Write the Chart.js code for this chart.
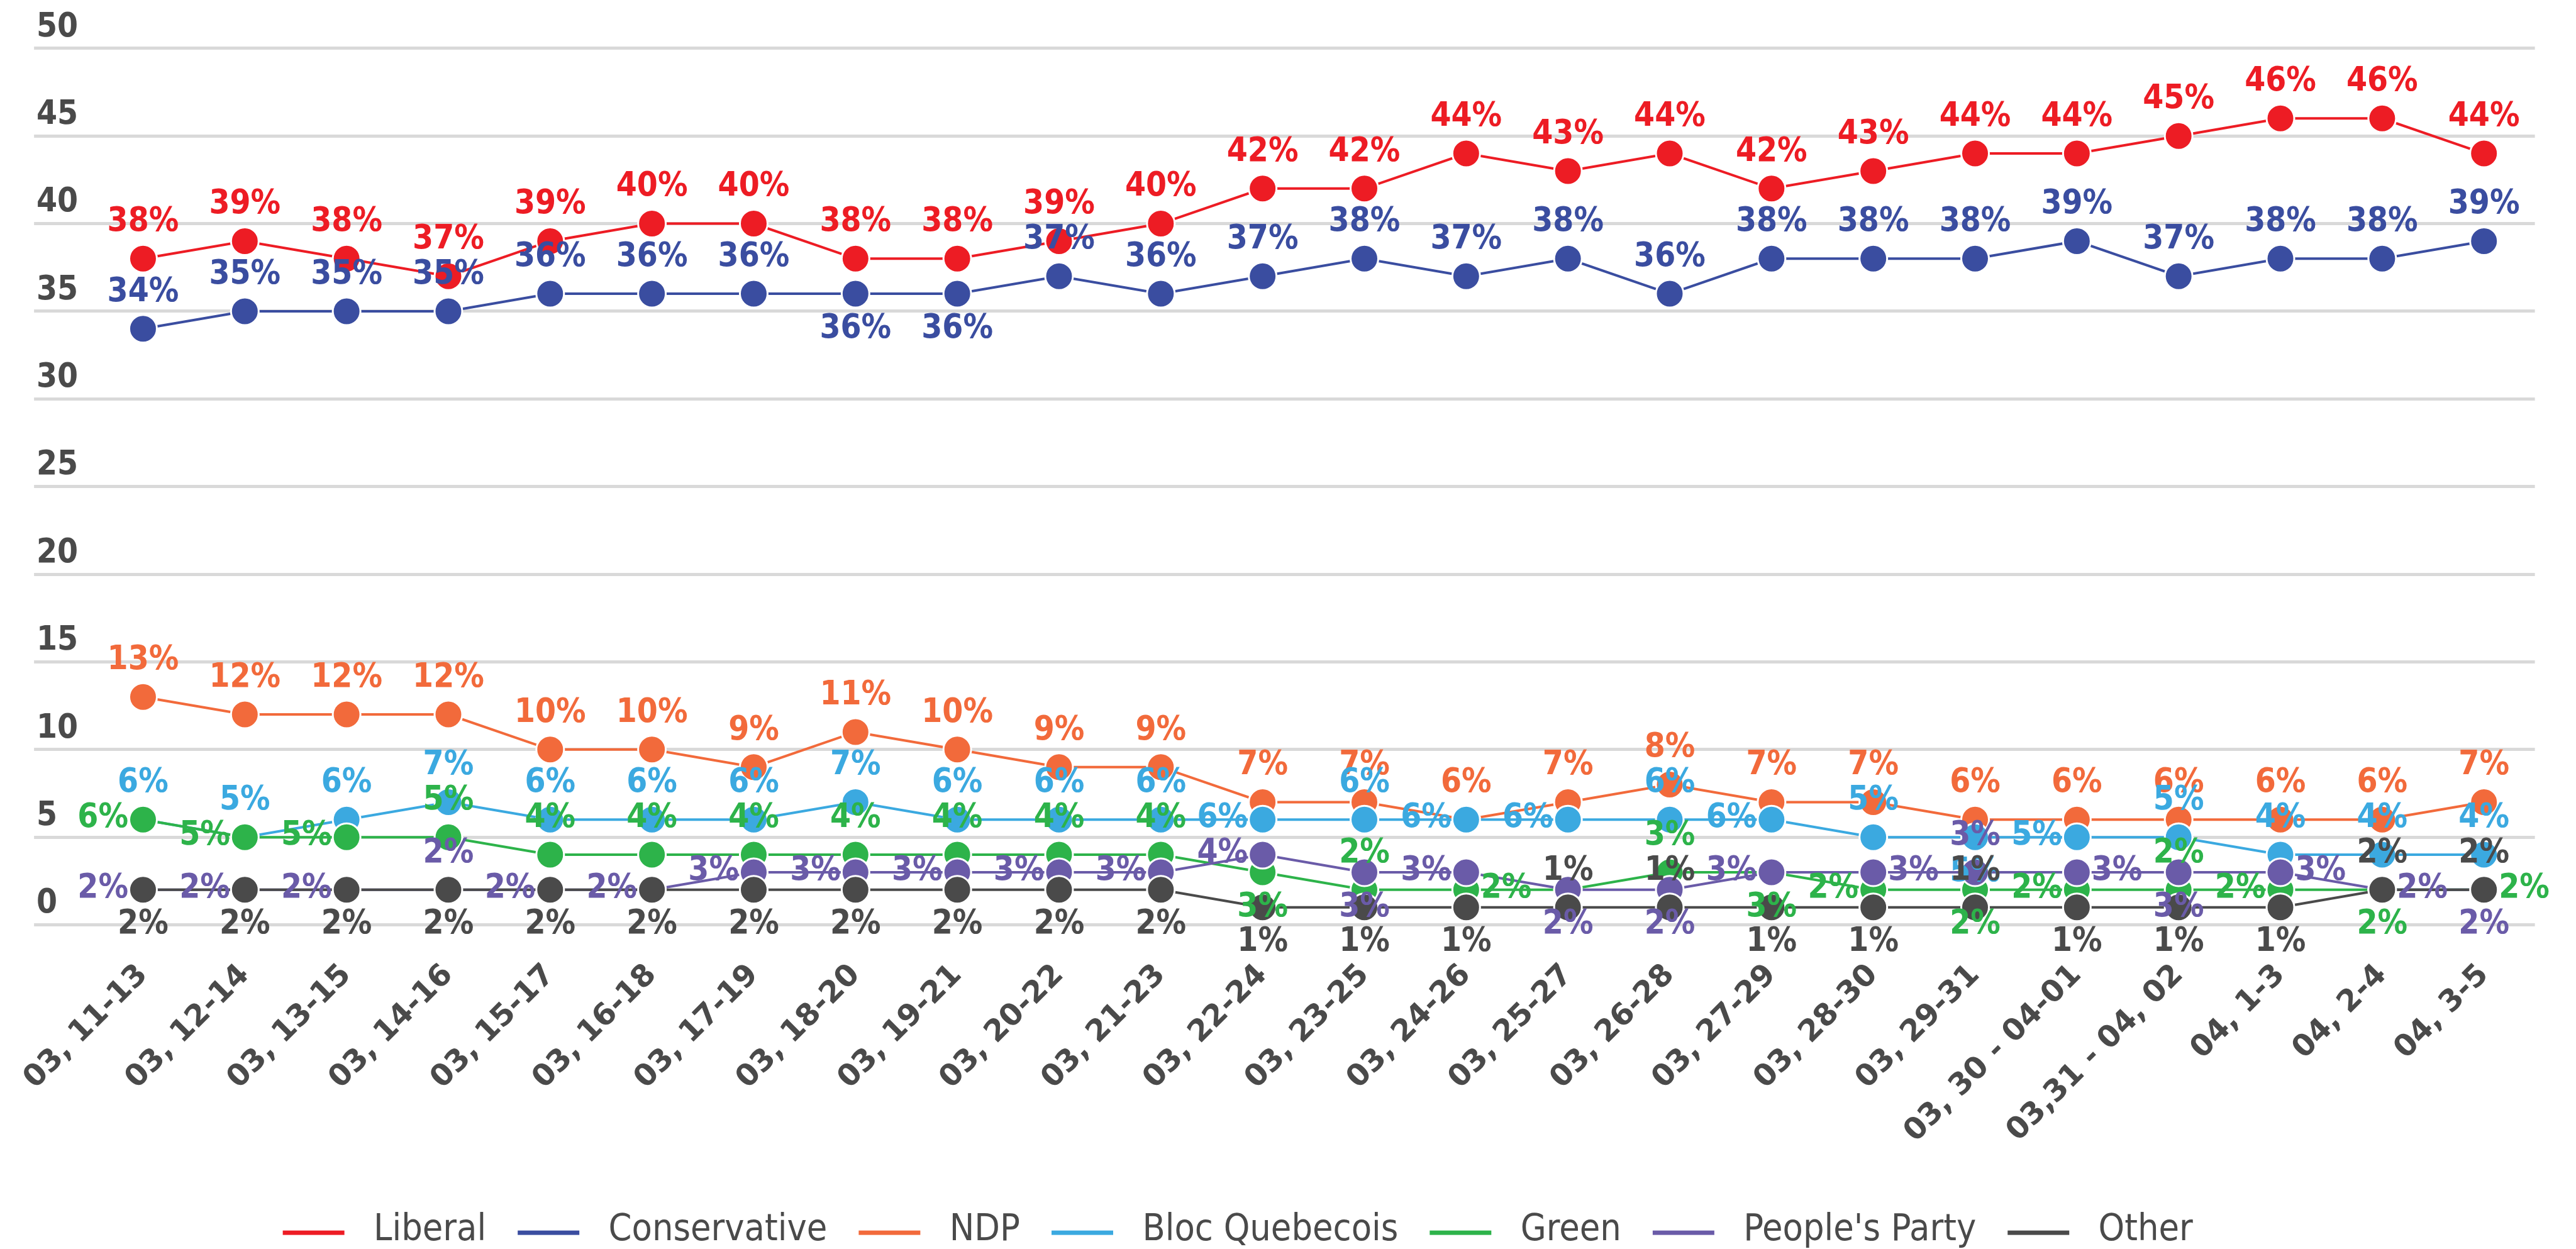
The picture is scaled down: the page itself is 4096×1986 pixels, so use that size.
<!DOCTYPE html>
<html>
<head>
<meta charset="utf-8">
<script src="https://cdn.jsdelivr.net/npm/chart.js@4/dist/chart.umd.min.js"></script>
<style>
  html, body { margin: 0; padding: 0; background: #fff; }
  #wrap { width: 4096px; height: 1986px; }
</style>
</head>
<body>
<div id="wrap"><canvas id="chart"></canvas></div>
<script>
// poll dates (month, days)
const categories = [
  "03, 11-13", "03, 12-14", "03, 13-15", "03, 14-16", "03, 15-17", "03, 16-18",
  "03, 17-19", "03, 18-20", "03, 19-21", "03, 20-22", "03, 21-23", "03, 22-24",
  "03, 23-25", "03, 24-26", "03, 25-27", "03, 26-28", "03, 27-29", "03, 28-30",
  "03, 29-31", "03, 30 - 04-01", "03,31 - 04, 02", "04, 1-3", "04, 2-4", "04, 3-5"
];

const liberal      = [38, 39, 38, 37, 39, 40, 40, 38, 38, 39, 40, 42, 42, 44, 43, 44, 42, 43, 44, 44, 45, 46, 46, 44];
const conservative = [34, 35, 35, 35, 36, 36, 36, 36, 36, 37, 36, 37, 38, 37, 38, 36, 38, 38, 38, 39, 37, 38, 38, 39];
const ndp          = [13, 12, 12, 12, 10, 10, 9, 11, 10, 9, 9, 7, 7, 6, 7, 8, 7, 7, 6, 6, 6, 6, 6, 7];
const bloc         = [6, 5, 6, 7, 6, 6, 6, 7, 6, 6, 6, 6, 6, 6, 6, 6, 6, 5, 5, 5, 5, 4, 4, 4];
const green        = [6, 5, 5, 5, 4, 4, 4, 4, 4, 4, 4, 3, 2, 2, 2, 3, 3, 2, 2, 2, 2, 2, 2, 2];
const peoples      = [2, 2, 2, 2, 2, 2, 3, 3, 3, 3, 3, 4, 3, 3, 2, 2, 3, 3, 3, 3, 3, 3, 2, 2];
const other        = [2, 2, 2, 2, 2, 2, 2, 2, 2, 2, 2, 1, 1, 1, 1, 1, 1, 1, 1, 1, 1, 1, 2, 2];

const yTicks = [0, 5, 10, 15, 20, 25, 30, 35, 40, 45, 50];

// where each value label sits: t = above, b = below, l = left, r = right, - = hidden
const liberalPlace      = "tttttttttttttttttttttttt";
const conservativePlace = "tttttttbbttttttttttttttt";
const ndpPlace          = "tttttttttttttttttttttttt";
const blocPlace         = "tttttttttttltlltltbltttt";
const greenPlace        = "llltttttttt" + "btr-tblbltlbr";
const peoplesPlace      = "lllt" + "llllllll" + "blbblrtrbrrb";
const otherPlace        = "bbbbbbbbbbbbbb" + "ttbbtbbbtt";

const S = 0.997;
const FONT = '"DejaVu Sans Condensed", "DejaVu Sans", sans-serif';
const INK = "#4a4a4a";

// legend swatch: short flat bar with room around it
const LEG_LEAD = 46, LEG_SW = 98, LEG_TRAIL = 17;
function legendSwatch(color) {
  const c = document.createElement("canvas");
  c.width = LEG_LEAD + LEG_SW + LEG_TRAIL;
  c.height = 40;
  const g = c.getContext("2d");
  g.fillStyle = color;
  g.fillRect(LEG_LEAD, 20, LEG_SW, 7);
  return c;
}

function series(label, data, color, place, order) {
  return {
    label: label,
    data: data,
    place: place.split(""),
    borderColor: color,
    backgroundColor: color,
    borderWidth: 4,
    pointRadius: 22,
    pointBorderWidth: 3,
    pointBorderColor: "#ffffff",
    pointBackgroundColor: color,
    tension: 0,
    order: order
  };
}

const valueLabels = {
  id: "valueLabels",
  afterDatasetsDraw(chart) {
    const ctx = chart.ctx;
    ctx.save();
    ctx.font = "bold " + (53 * S) + "px " + FONT;
    ctx.textAlign = "center";
    ctx.textBaseline = "middle";
    chart.data.datasets.forEach((ds, di) => {
      const meta = chart.getDatasetMeta(di);
      ctx.fillStyle = ds.borderColor;
      meta.data.forEach((pt, i) => {
        const p = ds.place[i];
        if (!p || p === "-") return;
        let x = pt.x, y = pt.y;
        if (p === "t") y -= 58 * S;
        else if (p === "b") y += 56 * S;
        else if (p === "l") { x -= 64 * S; y -= 2; }
        else if (p === "r") { x += 64 * S; y -= 2; }
        ctx.fillText(ds.data[i] + "%", x, y);
      });
    });
    ctx.restore();
  }
};

const LEG_SHIFT = 97;
const legendNudge = {
  id: "legendNudge",
  afterLayout(chart) {
    chart.legend.left -= LEG_SHIFT;
    chart.legend.right -= LEG_SHIFT;
  }
};

new Chart(document.getElementById("chart"), {
  type: "line",
  data: {
    labels: categories,
    datasets: [
      series("Liberal", liberal, "#ED1C24", liberalPlace, 7),
      series("Conservative", conservative, "#3A4DA0", conservativePlace, 6),
      series("NDP", ndp, "#F26A3B", ndpPlace, 5),
      series("Bloc Quebecois", bloc, "#3BA9E0", blocPlace, 4),
      series("Green", green, "#2DB34A", greenPlace, 3),
      series("People's Party", peoples, "#6A5BA8", peoplesPlace, 2),
      series("Other", other, "#4A4A4A", otherPlace, 1)
    ]
  },
  options: {
    responsive: true,
    maintainAspectRatio: false,
    devicePixelRatio: 1,
    animation: false,
    events: [],
    layout: {
      padding: { top: 76.8, left: 53.8, right: 65.4, bottom: -10 }
    },
    scales: {
      x: {
        offset: true,
        grid: { display: false },
        border: { display: false },
        afterFit(scale) { scale.height = 452.6; },
        ticks: {
          autoSkip: false,
          minRotation: 45,
          maxRotation: 45,
          padding: 44,
          color: INK,
          font: { family: '"DejaVu Sans", sans-serif', size: 48, weight: "bold" }
        }
      },
      y: {
        min: 0,
        max: 50,
        afterBuildTicks(scale) { scale.ticks = yTicks.map(v => ({ value: v })); },
        afterFit(scale) { scale.width = 88.5; },
        border: { display: false },
        grid: { color: "#d9d9d9", lineWidth: 5, tickLength: 92.4, drawTicks: true },
        ticks: {
          crossAlign: "far",
          labelOffset: -33,
          padding: 0,
          color: INK,
          font: { family: FONT, size: 53 * S, weight: "bold" }
        }
      }
    },
    plugins: {
      tooltip: { enabled: false },
      legend: {
        position: "bottom",
        labels: {
          usePointStyle: true,
          pointStyleWidth: LEG_LEAD + LEG_SW + LEG_TRAIL,
          padding: 4,
          color: INK,
          font: { family: FONT, size: 59 * S },
          sort: (a, b) => a.datasetIndex - b.datasetIndex,
          generateLabels(chart) {
            const items = Chart.defaults.plugins.legend.labels.generateLabels(chart);
            items.forEach(it => {
              it.pointStyle = legendSwatch(chart.data.datasets[it.datasetIndex].borderColor);
            });
            return items;
          }
        }
      }
    }
  },
  plugins: [valueLabels, legendNudge]
});
</script>
</body>
</html>
